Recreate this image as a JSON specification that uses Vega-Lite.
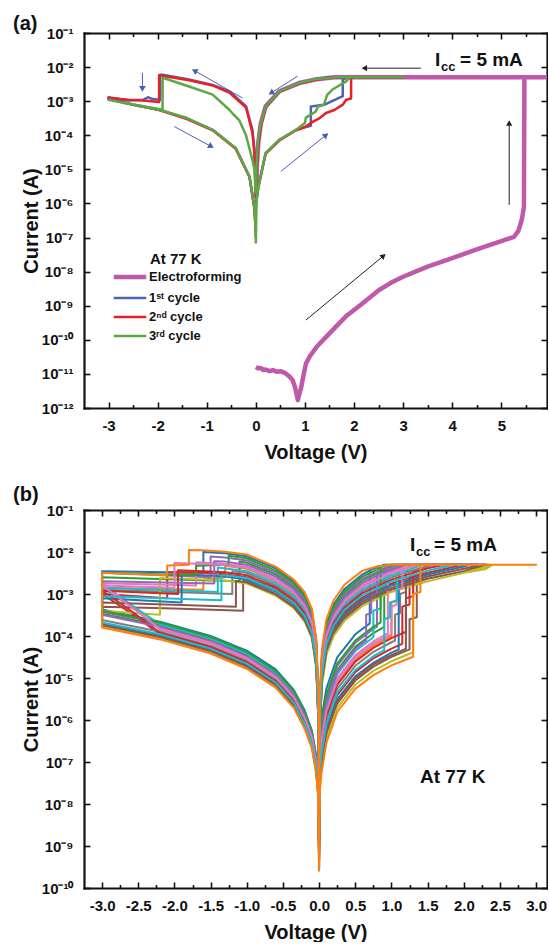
{
"$schema":"https://vega.github.io/schema/vega-lite/v6.json",
"background":"white",
"padding":{"left":13,"top":14,"right":0,"bottom":0},
"spacing":23,
"resolve":{"scale":{"color":"independent","strokeWidth":"independent"}},
"config":{
"font":"Liberation Sans",
"view":{"stroke":null},
"axis":{"grid":false,"domainColor":"#111","domainWidth":2.2,"domainCap":"square","tickColor":"#111","tickWidth":1.6,"tickSize":-6,"labelFont":"Liberation Sans","labelFontSize":15,"labelFontWeight":"bold","labelColor":"#111","labelPadding":16,"titleFont":"Liberation Sans","titleFontSize":20,"titleFontWeight":"bold","titleColor":"#111"},
"title":{"font":"Liberation Sans","fontSize":20,"fontWeight":"bold","color":"#111","anchor":"start","frame":"group"}
},
"datasets":{
"a":[
{"s":"E","v":0.0,"i":1.6e-11},{"s":"E","v":0.05,"i":1.45e-11},{"s":"E","v":0.1,"i":1.5e-11},{"s":"E","v":0.15,"i":1.3e-11},{"s":"E","v":0.2,"i":1.35e-11},{"s":"E","v":0.28,"i":1.2e-11},{"s":"E","v":0.35,"i":1.3e-11},{"s":"E","v":0.42,"i":1.15e-11},{"s":"E","v":0.5,"i":1.2e-11},{"s":"E","v":0.6,"i":1.05e-11},{"s":"E","v":0.68,"i":8.5e-12},{"s":"E","v":0.75,"i":6.5e-12},{"s":"E","v":0.8,"i":4e-12},{"s":"E","v":0.83,"i":2.5e-12},{"s":"E","v":0.855,"i":1.7e-12},{"s":"E","v":0.88,"i":2.4e-12},{"s":"E","v":0.92,"i":3.8e-12},{"s":"E","v":0.97,"i":9e-12},{"s":"E","v":1.02,"i":2.0e-11},{"s":"E","v":1.1,"i":3.3e-11},{"s":"E","v":1.25,"i":6.5e-11},{"s":"E","v":1.5,"i":1.55e-10},{"s":"E","v":1.83,"i":4.8e-10},{"s":"E","v":2.17,"i":1.17e-9},{"s":"E","v":2.51,"i":2.9e-9},{"s":"E","v":2.75,"i":4.7e-9},{"s":"E","v":3.0,"i":7.1e-9},{"s":"E","v":3.25,"i":1.0e-8},{"s":"E","v":3.5,"i":1.4e-8},{"s":"E","v":4.0,"i":2.5e-8},{"s":"E","v":4.5,"i":4.5e-8},{"s":"E","v":5.0,"i":7.9e-8},{"s":"E","v":5.26,"i":1.05e-7},{"s":"E","v":5.35,"i":1.6e-7},{"s":"E","v":5.42,"i":3.5e-7},{"s":"E","v":5.46,"i":8e-7},{"s":"E","v":5.47,"i":5e-3},{"s":"E","v":6.0,"i":5e-3},{"s":"E","v":1.6,"i":5e-3},{"s":"E","v":1.2,"i":4.3e-3},{"s":"E","v":0.88,"i":3.4e-3},{"s":"E","v":0.48,"i":1.95e-3},{"s":"E","v":0.2,"i":7.1e-4},{"s":"E","v":0.1,"i":2.2e-4},{"s":"E","v":0.05,"i":6e-5},{"s":"E","v":0.02,"i":1.2e-5},{"s":"E","v":0.01,"i":1.5e-6},
{"s":"1","v":0,"i":1.0e-6},{"s":"1","v":0.03,"i":2.0e-6},{"s":"1","v":0.07,"i":4.0e-6},{"s":"1","v":0.2,"i":3.0e-5},{"s":"1","v":0.48,"i":7.4e-5},{"s":"1","v":0.82,"i":1.45e-4},{"s":"1","v":1.0,"i":1.7e-4},{"s":"1","v":1.12,"i":1.9e-4},{"s":"1","v":1.12,"i":7.0e-4},{"s":"1","v":1.39,"i":7.8e-4},{"s":"1","v":1.77,"i":1.4e-3},{"s":"1","v":1.77,"i":4.2e-3},{"s":"1","v":1.84,"i":5e-3},{"s":"1","v":3.0,"i":5e-3},{"s":"1","v":1.5,"i":5e-3},{"s":"1","v":1.2,"i":4.3e-3},{"s":"1","v":0.88,"i":3.4e-3},{"s":"1","v":0.48,"i":1.95e-3},{"s":"1","v":0.2,"i":7.1e-4},{"s":"1","v":0.1,"i":2.0e-4},{"s":"1","v":0.04,"i":4e-5},{"s":"1","v":0.02,"i":1.5e-5},{"s":"1","v":0.01,"i":6e-6},{"s":"1","v":0,"i":2e-6},{"s":"1","v":-0.01,"i":8e-6},{"s":"1","v":-0.03,"i":4e-5},{"s":"1","v":-0.07,"i":1.45e-4},{"s":"1","v":-0.2,"i":7.1e-4},{"s":"1","v":-0.54,"i":1.95e-3},{"s":"1","v":-0.88,"i":3.0e-3},{"s":"1","v":-1.36,"i":4.3e-3},{"s":"1","v":-1.9,"i":6.0e-3},{"s":"1","v":-1.95,"i":6.0e-3},{"s":"1","v":-1.95,"i":1.1e-3},{"s":"1","v":-2.1,"i":1.15e-3},{"s":"1","v":-2.2,"i":1.3e-3},{"s":"1","v":-2.3,"i":1.1e-3},{"s":"1","v":-2.6,"i":1.05e-3},{"s":"1","v":-3.0,"i":1.3e-3},{"s":"1","v":-3.0,"i":1.15e-3},{"s":"1","v":-2.5,"i":8.0e-4},{"s":"1","v":-1.97,"i":5.6e-4},{"s":"1","v":-1.4,"i":3.1e-4},{"s":"1","v":-0.88,"i":1.45e-4},{"s":"1","v":-0.41,"i":4.2e-5},{"s":"1","v":-0.13,"i":6.2e-6},{"s":"1","v":-0.03,"i":8e-7},{"s":"1","v":-0.01,"i":3e-7},{"s":"1","v":0,"i":1.5e-7},
{"s":"2","v":0,"i":1.5e-6},{"s":"2","v":0.03,"i":2.5e-6},{"s":"2","v":0.07,"i":4.2e-6},{"s":"2","v":0.2,"i":2.9e-5},{"s":"2","v":0.48,"i":7.0e-5},{"s":"2","v":0.82,"i":1.4e-4},{"s":"2","v":1.0,"i":1.75e-4},{"s":"2","v":1.12,"i":2.3e-4},{"s":"2","v":1.3,"i":3.2e-4},{"s":"2","v":1.43,"i":4.5e-4},{"s":"2","v":1.6,"i":5.5e-4},{"s":"2","v":1.77,"i":7.9e-4},{"s":"2","v":1.84,"i":1.1e-3},{"s":"2","v":1.94,"i":1.2e-3},{"s":"2","v":1.94,"i":5e-3},{"s":"2","v":3.0,"i":5e-3},{"s":"2","v":1.55,"i":5e-3},{"s":"2","v":1.2,"i":4.2e-3},{"s":"2","v":0.88,"i":3.3e-3},{"s":"2","v":0.48,"i":1.9e-3},{"s":"2","v":0.2,"i":6.5e-4},{"s":"2","v":0.1,"i":1.8e-4},{"s":"2","v":0.05,"i":6e-5},{"s":"2","v":0.02,"i":1.2e-5},{"s":"2","v":0.01,"i":4e-6},{"s":"2","v":0,"i":1.5e-6},{"s":"2","v":-0.01,"i":5e-6},{"s":"2","v":-0.03,"i":3e-5},{"s":"2","v":-0.07,"i":1.2e-4},{"s":"2","v":-0.2,"i":6.5e-4},{"s":"2","v":-0.54,"i":1.8e-3},{"s":"2","v":-0.88,"i":2.9e-3},{"s":"2","v":-1.36,"i":4.1e-3},{"s":"2","v":-1.97,"i":5.8e-3},{"s":"2","v":-1.97,"i":9.5e-4},{"s":"2","v":-2.3,"i":1.05e-3},{"s":"2","v":-2.6,"i":1.1e-3},{"s":"2","v":-3.0,"i":1.25e-3},{"s":"2","v":-3.0,"i":1.15e-3},{"s":"2","v":-2.5,"i":7.8e-4},{"s":"2","v":-1.97,"i":5.5e-4},{"s":"2","v":-1.4,"i":3.0e-4},{"s":"2","v":-0.88,"i":1.4e-4},{"s":"2","v":-0.41,"i":4.0e-5},{"s":"2","v":-0.13,"i":6e-6},{"s":"2","v":-0.03,"i":7e-7},{"s":"2","v":-0.01,"i":2.5e-7},{"s":"2","v":0,"i":1e-7},
{"s":"3","v":0,"i":6.7e-8},{"s":"3","v":0.01,"i":6e-7},{"s":"3","v":0.02,"i":1.5e-6},{"s":"3","v":0.07,"i":4.2e-6},{"s":"3","v":0.2,"i":3e-5},{"s":"3","v":0.48,"i":7.4e-5},{"s":"3","v":0.82,"i":1.45e-4},{"s":"3","v":1.0,"i":2.3e-4},{"s":"3","v":1.02,"i":3.3e-4},{"s":"3","v":1.22,"i":5.0e-4},{"s":"3","v":1.26,"i":6.8e-4},{"s":"3","v":1.39,"i":8.0e-4},{"s":"3","v":1.45,"i":1.5e-3},{"s":"3","v":1.56,"i":2.2e-3},{"s":"3","v":1.84,"i":3.8e-3},{"s":"3","v":1.9,"i":5e-3},{"s":"3","v":3.0,"i":5e-3},{"s":"3","v":1.6,"i":5e-3},{"s":"3","v":1.2,"i":4.4e-3},{"s":"3","v":0.88,"i":3.4e-3},{"s":"3","v":0.48,"i":1.95e-3},{"s":"3","v":0.2,"i":7.0e-4},{"s":"3","v":0.1,"i":2.2e-4},{"s":"3","v":0.05,"i":8e-5},{"s":"3","v":0.02,"i":2e-5},{"s":"3","v":0.01,"i":8e-6},{"s":"3","v":0,"i":2e-6},{"s":"3","v":-0.01,"i":3e-6},{"s":"3","v":-0.03,"i":1e-5},{"s":"3","v":-0.07,"i":1.9e-5},{"s":"3","v":-0.2,"i":1.0e-4},{"s":"3","v":-0.34,"i":2.8e-4},{"s":"3","v":-0.45,"i":4.0e-4},{"s":"3","v":-0.54,"i":5.6e-4},{"s":"3","v":-0.88,"i":1.55e-3},{"s":"3","v":-1.36,"i":2.7e-3},{"s":"3","v":-1.88,"i":4.8e-3},{"s":"3","v":-1.9,"i":4.8e-3},{"s":"3","v":-1.9,"i":5.6e-4},{"s":"3","v":-2.5,"i":8.0e-4},{"s":"3","v":-3.0,"i":1.1e-3},{"s":"3","v":-2.5,"i":7.9e-4},{"s":"3","v":-1.97,"i":5.6e-4},{"s":"3","v":-1.4,"i":3.2e-4},{"s":"3","v":-0.88,"i":1.45e-4},{"s":"3","v":-0.41,"i":4.2e-5},{"s":"3","v":-0.13,"i":6.2e-6},{"s":"3","v":-0.03,"i":8e-7},{"s":"3","v":-0.01,"i":2.5e-7},{"s":"3","v":0,"i":6.7e-8}
],
"arr":[
{"x1":-2.31,"y1":6.8e-3,"x2":-2.31,"y2":2.3e-3,"k":"b","ang":180},
{"x1":-0.27,"y1":1.23e-3,"x2":-1.25,"y2":7.9e-3,"k":"b","ang":300},
{"x1":0.85,"y1":5.4e-3,"x2":0.31,"y2":1.74e-3,"k":"b","ang":238},
{"x1":-1.66,"y1":1.8e-4,"x2":-0.91,"y2":4.7e-5,"k":"b","ang":119},
{"x1":0.51,"y1":8.7e-6,"x2":1.43,"y2":1.02e-4,"k":"b","ang":51},
{"x1":3.36,"y1":9.3e-3,"x2":2.21,"y2":9.3e-3,"k":"k","ang":270},
{"x1":5.16,"y1":9.1e-7,"x2":5.16,"y2":2.3e-4,"k":"k","ang":0},
{"x1":1.02,"y1":3.8e-10,"x2":2.6,"y2":2.9e-8,"k":"k","ang":50}
],
"b":[
{"c":1,"v":0,"i":3.2e-9},{"c":1,"v":0.01,"i":4.0e-7},{"c":1,"v":0.03,"i":1.0e-6},{"c":1,"v":0.1,"i":5.6e-6},{"c":1,"v":0.25,"i":3.1e-5},{"c":1,"v":0.5,"i":1.1e-4},{"c":1,"v":0.7,"i":2.0e-4},{"c":1,"v":0.7,"i":3.7e-3},{"c":1,"v":0.9,"i":5e-3},{"c":1,"v":2.0,"i":5e-3},{"c":1,"v":1.0,"i":5e-3},{"c":1,"v":0.8,"i":4.5e-3},{"c":1,"v":0.6,"i":2.95e-3},{"c":1,"v":0.35,"i":1.32e-3},{"c":1,"v":0.2,"i":5.6e-4},{"c":1,"v":0.1,"i":2.0e-4},{"c":1,"v":0.04,"i":4.0e-5},{"c":1,"v":0.01,"i":3.2e-6},{"c":1,"v":0,"i":1e-8},{"c":1,"v":-0.01,"i":4.0e-6},{"c":1,"v":-0.04,"i":7.9e-5},{"c":1,"v":-0.1,"i":4.0e-4},{"c":1,"v":-0.2,"i":1.0e-3},{"c":1,"v":-0.35,"i":2.0e-3},{"c":1,"v":-0.6,"i":4.1e-3},{"c":1,"v":-1.0,"i":7.9e-3},{"c":1,"v":-1.3,"i":9.3e-3},{"c":1,"v":-1.6,"i":1.0e-2},{"c":1,"v":-1.6,"i":3.2e-3},{"c":1,"v":-3.0,"i":3.5e-3},{"c":1,"v":-3.0,"i":4.3e-4},{"c":1,"v":-2.2,"i":2.2e-4},{"c":1,"v":-1.5,"i":1.0e-4},{"c":1,"v":-1.0,"i":4.5e-5},{"c":1,"v":-0.6,"i":1.6e-5},{"c":1,"v":-0.35,"i":5.2e-6},{"c":1,"v":-0.2,"i":1.7e-6},{"c":1,"v":-0.1,"i":5.6e-7},{"c":1,"v":-0.04,"i":1.4e-7},{"c":1,"v":-0.015,"i":4.5e-8},{"c":1,"v":0,"i":1.6e-9},
{"c":2,"v":0,"i":1e-9},{"c":2,"v":0.01,"i":1e-7},{"c":2,"v":0.03,"i":2.5e-7},{"c":2,"v":0.1,"i":1.4e-6},{"c":2,"v":0.25,"i":7.8e-6},{"c":2,"v":0.5,"i":2.75e-5},{"c":2,"v":0.75,"i":5.9e-5},{"c":2,"v":1.0,"i":1.0e-4},{"c":2,"v":1.0,"i":6.3e-4},{"c":2,"v":1.1,"i":7.1e-4},{"c":2,"v":1.1,"i":3.6e-3},{"c":2,"v":1.35,"i":5e-3},{"c":2,"v":2.2,"i":5e-3},{"c":2,"v":1.35,"i":5e-3},{"c":2,"v":1.0,"i":3.2e-3},{"c":2,"v":0.6,"i":1.5e-3},{"c":2,"v":0.35,"i":6.6e-4},{"c":2,"v":0.2,"i":2.8e-4},{"c":2,"v":0.1,"i":1e-4},{"c":2,"v":0.04,"i":2e-5},{"c":2,"v":0.01,"i":1.6e-6},{"c":2,"v":0,"i":5e-9},{"c":2,"v":-0.01,"i":2e-6},{"c":2,"v":-0.04,"i":4e-5},{"c":2,"v":-0.1,"i":2e-4},{"c":2,"v":-0.2,"i":5e-4},{"c":2,"v":-0.35,"i":1.0e-3},{"c":2,"v":-0.6,"i":2.0e-3},{"c":2,"v":-1.0,"i":4.0e-3},{"c":2,"v":-1.3,"i":4.7e-3},{"c":2,"v":-1.3,"i":2.5e-3},{"c":2,"v":-1.6,"i":2.2e-3},{"c":2,"v":-1.6,"i":1.26e-3},{"c":2,"v":-3.0,"i":1.4e-3},{"c":2,"v":-2.6,"i":5e-4},{"c":2,"v":-2.2,"i":1.6e-4},{"c":2,"v":-1.5,"i":7.2e-5},{"c":2,"v":-1.0,"i":3.2e-5},{"c":2,"v":-0.6,"i":1.1e-5},{"c":2,"v":-0.35,"i":3.7e-6},{"c":2,"v":-0.2,"i":1.2e-6},{"c":2,"v":-0.1,"i":4e-7},{"c":2,"v":-0.04,"i":1e-7},{"c":2,"v":-0.015,"i":3.2e-8},{"c":2,"v":0,"i":6.3e-10},
{"c":3,"v":0,"i":6.3e-9},{"c":3,"v":0.01,"i":2e-7},{"c":3,"v":0.03,"i":5e-7},{"c":3,"v":0.1,"i":2.8e-6},{"c":3,"v":0.25,"i":1.55e-5},{"c":3,"v":0.5,"i":5.5e-5},{"c":3,"v":0.75,"i":1.17e-4},{"c":3,"v":0.9,"i":1.64e-4},{"c":3,"v":0.9,"i":3.8e-3},{"c":3,"v":1.05,"i":5e-3},{"c":3,"v":2.1,"i":5e-3},{"c":3,"v":1.08,"i":5e-3},{"c":3,"v":1.0,"i":4.5e-3},{"c":3,"v":0.6,"i":2.1e-3},{"c":3,"v":0.35,"i":9.3e-4},{"c":3,"v":0.2,"i":4e-4},{"c":3,"v":0.1,"i":1.4e-4},{"c":3,"v":0.04,"i":2.8e-5},{"c":3,"v":0.01,"i":2.2e-6},{"c":3,"v":0,"i":2.5e-9},{"c":3,"v":-0.01,"i":2.8e-6},{"c":3,"v":-0.04,"i":5.6e-5},{"c":3,"v":-0.1,"i":2.8e-4},{"c":3,"v":-0.2,"i":7.1e-4},{"c":3,"v":-0.35,"i":1.45e-3},{"c":3,"v":-0.6,"i":2.9e-3},{"c":3,"v":-1.0,"i":5.6e-3},{"c":3,"v":-1.1,"i":5.9e-3},{"c":3,"v":-1.1,"i":2.0e-3},{"c":3,"v":-2.0,"i":2.2e-3},{"c":3,"v":-3.0,"i":2.5e-3},{"c":3,"v":-3.0,"i":3.4e-4},{"c":3,"v":-2.2,"i":1.8e-4},{"c":3,"v":-1.5,"i":8.1e-5},{"c":3,"v":-1.0,"i":3.5e-5},{"c":3,"v":-0.6,"i":1.26e-5},{"c":3,"v":-0.35,"i":4.2e-6},{"c":3,"v":-0.2,"i":1.3e-6},{"c":3,"v":-0.1,"i":4.5e-7},{"c":3,"v":-0.04,"i":1.1e-7},{"c":3,"v":-0.015,"i":3.5e-8},{"c":3,"v":0,"i":4e-9},
{"c":4,"v":0,"i":5e-10},{"c":4,"v":0.01,"i":5e-8},{"c":4,"v":0.03,"i":1.26e-7},{"c":4,"v":0.1,"i":7.1e-7},{"c":4,"v":0.25,"i":3.9e-6},{"c":4,"v":0.5,"i":1.38e-5},{"c":4,"v":0.75,"i":2.95e-5},{"c":4,"v":1.0,"i":5e-5},{"c":4,"v":1.15,"i":6.5e-5},{"c":4,"v":1.15,"i":5e-4},{"c":4,"v":1.25,"i":5.6e-4},{"c":4,"v":1.25,"i":2.5e-3},{"c":4,"v":1.5,"i":3.2e-3},{"c":4,"v":2.0,"i":5e-3},{"c":4,"v":2.3,"i":5e-3},{"c":4,"v":2.0,"i":5e-3},{"c":4,"v":1.5,"i":3.2e-3},{"c":4,"v":1.0,"i":1.78e-3},{"c":4,"v":0.6,"i":8.3e-4},{"c":4,"v":0.35,"i":3.7e-4},{"c":4,"v":0.2,"i":1.6e-4},{"c":4,"v":0.1,"i":5.6e-5},{"c":4,"v":0.04,"i":1.1e-5},{"c":4,"v":0.01,"i":8.9e-7},{"c":4,"v":0,"i":2e-9},{"c":4,"v":-0.01,"i":1.26e-6},{"c":4,"v":-0.04,"i":2.5e-5},{"c":4,"v":-0.1,"i":1.26e-4},{"c":4,"v":-0.2,"i":3.2e-4},{"c":4,"v":-0.35,"i":6.5e-4},{"c":4,"v":-0.6,"i":1.3e-3},{"c":4,"v":-1.0,"i":2.5e-3},{"c":4,"v":-1.3,"i":2.95e-3},{"c":4,"v":-1.6,"i":3.2e-3},{"c":4,"v":-2.1,"i":3.3e-3},{"c":4,"v":-2.1,"i":7.9e-4},{"c":4,"v":-3.0,"i":1e-3},{"c":4,"v":-2.6,"i":3.5e-4},{"c":4,"v":-2.2,"i":1.1e-4},{"c":4,"v":-1.5,"i":5.1e-5},{"c":4,"v":-1.0,"i":2.2e-5},{"c":4,"v":-0.6,"i":7.9e-6},{"c":4,"v":-0.35,"i":2.6e-6},{"c":4,"v":-0.2,"i":8.3e-7},{"c":4,"v":-0.1,"i":2.8e-7},{"c":4,"v":-0.04,"i":7.1e-8},{"c":4,"v":-0.015,"i":2.2e-8},{"c":4,"v":0,"i":1e-9},
{"c":5,"v":0,"i":1e-8},{"c":5,"v":0.01,"i":2.5e-7},{"c":5,"v":0.03,"i":6.3e-7},{"c":5,"v":0.1,"i":3.5e-6},{"c":5,"v":0.25,"i":1.95e-5},{"c":5,"v":0.5,"i":6.9e-5},{"c":5,"v":0.75,"i":1.48e-4},{"c":5,"v":0.8,"i":1.66e-4},{"c":5,"v":0.8,"i":1e-3},{"c":5,"v":0.9,"i":1.12e-3},{"c":5,"v":0.9,"i":3.5e-3},{"c":5,"v":1.0,"i":5e-3},{"c":5,"v":2.0,"i":5e-3},{"c":5,"v":1.0,"i":5e-3},{"c":5,"v":0.6,"i":2.3e-3},{"c":5,"v":0.35,"i":1.05e-3},{"c":5,"v":0.2,"i":4.5e-4},{"c":5,"v":0.1,"i":1.6e-4},{"c":5,"v":0.04,"i":3.2e-5},{"c":5,"v":0.01,"i":2.5e-6},{"c":5,"v":0,"i":1.6e-9},{"c":5,"v":-0.01,"i":3.2e-6},{"c":5,"v":-0.04,"i":6.3e-5},{"c":5,"v":-0.1,"i":3.2e-4},{"c":5,"v":-0.2,"i":7.9e-4},{"c":5,"v":-0.35,"i":1.6e-3},{"c":5,"v":-0.6,"i":3.2e-3},{"c":5,"v":-1.0,"i":6.3e-3},{"c":5,"v":-1.3,"i":7.4e-3},{"c":5,"v":-1.5,"i":7.8e-3},{"c":5,"v":-1.5,"i":2.5e-3},{"c":5,"v":-3.0,"i":3.2e-3},{"c":5,"v":-3.0,"i":3.8e-4},{"c":5,"v":-2.2,"i":2e-4},{"c":5,"v":-1.5,"i":9.1e-5},{"c":5,"v":-1.0,"i":4e-5},{"c":5,"v":-0.6,"i":1.4e-5},{"c":5,"v":-0.35,"i":4.7e-6},{"c":5,"v":-0.2,"i":1.48e-6},{"c":5,"v":-0.1,"i":5e-7},{"c":5,"v":-0.04,"i":1.26e-7},{"c":5,"v":-0.015,"i":4e-8},{"c":5,"v":0,"i":2.5e-9},
{"c":6,"v":0,"i":3.2e-10},{"c":6,"v":0.01,"i":3.2e-8},{"c":6,"v":0.03,"i":7.9e-8},{"c":6,"v":0.1,"i":4.5e-7},{"c":6,"v":0.25,"i":2.45e-6},{"c":6,"v":0.5,"i":8.7e-6},{"c":6,"v":0.75,"i":1.86e-5},{"c":6,"v":1.0,"i":3.2e-5},{"c":6,"v":1.25,"i":4.8e-5},{"c":6,"v":1.25,"i":2.5e-4},{"c":6,"v":1.35,"i":2.8e-4},{"c":6,"v":1.35,"i":2e-3},{"c":6,"v":1.5,"i":2.3e-3},{"c":6,"v":2.0,"i":3.5e-3},{"c":6,"v":2.2,"i":4.2e-3},{"c":6,"v":2.3,"i":5e-3},{"c":6,"v":2.2,"i":4.5e-3},{"c":6,"v":2.0,"i":3.5e-3},{"c":6,"v":1.5,"i":2.3e-3},{"c":6,"v":1.0,"i":1.26e-3},{"c":6,"v":0.6,"i":5.9e-4},{"c":6,"v":0.35,"i":2.6e-4},{"c":6,"v":0.2,"i":1.1e-4},{"c":6,"v":0.1,"i":4e-5},{"c":6,"v":0.04,"i":7.9e-6},{"c":6,"v":0.01,"i":6.3e-7},{"c":6,"v":0,"i":7.9e-10},{"c":6,"v":-0.01,"i":1e-6},{"c":6,"v":-0.04,"i":2e-5},{"c":6,"v":-0.1,"i":1e-4},{"c":6,"v":-0.2,"i":2.5e-4},{"c":6,"v":-0.35,"i":5.1e-4},{"c":6,"v":-0.6,"i":1.0e-3},{"c":6,"v":-1.0,"i":2e-3},{"c":6,"v":-1.05,"i":2.04e-3},{"c":6,"v":-1.05,"i":4e-4},{"c":6,"v":-2.0,"i":4.5e-4},{"c":6,"v":-3.0,"i":5e-4},{"c":6,"v":-3.0,"i":1.9e-4},{"c":6,"v":-2.2,"i":1e-4},{"c":6,"v":-1.5,"i":4.6e-5},{"c":6,"v":-1.0,"i":2e-5},{"c":6,"v":-0.6,"i":7.1e-6},{"c":6,"v":-0.35,"i":2.3e-6},{"c":6,"v":-0.2,"i":7.4e-7},{"c":6,"v":-0.1,"i":2.5e-7},{"c":6,"v":-0.04,"i":6.3e-8},{"c":6,"v":-0.015,"i":2e-8},{"c":6,"v":0,"i":4e-10},
{"c":7,"v":0,"i":4e-9},{"c":7,"v":0.01,"i":1.26e-7},{"c":7,"v":0.03,"i":3.2e-7},{"c":7,"v":0.1,"i":1.78e-6},{"c":7,"v":0.25,"i":9.8e-6},{"c":7,"v":0.5,"i":3.5e-5},{"c":7,"v":0.75,"i":7.4e-5},{"c":7,"v":0.95,"i":1.15e-4},{"c":7,"v":0.95,"i":3.3e-3},{"c":7,"v":1.2,"i":4.7e-3},{"c":7,"v":1.3,"i":5e-3},{"c":7,"v":2.1,"i":5e-3},{"c":7,"v":1.25,"i":5e-3},{"c":7,"v":1.0,"i":3.5e-3},{"c":7,"v":0.6,"i":1.66e-3},{"c":7,"v":0.35,"i":7.4e-4},{"c":7,"v":0.2,"i":3.2e-4},{"c":7,"v":0.1,"i":1.1e-4},{"c":7,"v":0.04,"i":2.2e-5},{"c":7,"v":0.01,"i":1.78e-6},{"c":7,"v":0,"i":6.3e-9},{"c":7,"v":-0.01,"i":2.2e-6},{"c":7,"v":-0.04,"i":4.5e-5},{"c":7,"v":-0.1,"i":2.2e-4},{"c":7,"v":-0.2,"i":5.6e-4},{"c":7,"v":-0.35,"i":1.15e-3},{"c":7,"v":-0.6,"i":2.3e-3},{"c":7,"v":-1.0,"i":4.5e-3},{"c":7,"v":-1.3,"i":5.2e-3},{"c":7,"v":-1.7,"i":5.7e-3},{"c":7,"v":-1.7,"i":1.6e-3},{"c":7,"v":-3.0,"i":1.8e-3},{"c":7,"v":-2.6,"i":5.5e-4},{"c":7,"v":-2.2,"i":1.4e-4},{"c":7,"v":-1.5,"i":6.5e-5},{"c":7,"v":-1.0,"i":2.8e-5},{"c":7,"v":-0.6,"i":1e-5},{"c":7,"v":-0.35,"i":3.3e-6},{"c":7,"v":-0.2,"i":1.05e-6},{"c":7,"v":-0.1,"i":3.5e-7},{"c":7,"v":-0.04,"i":8.9e-8},{"c":7,"v":-0.015,"i":2.8e-8},{"c":7,"v":0,"i":1.26e-9},
{"c":8,"v":0,"i":1.26e-9},{"c":8,"v":0.01,"i":7.1e-8},{"c":8,"v":0.03,"i":1.78e-7},{"c":8,"v":0.1,"i":1e-6},{"c":8,"v":0.25,"i":5.5e-6},{"c":8,"v":0.5,"i":1.95e-5},{"c":8,"v":0.75,"i":4.2e-5},{"c":8,"v":1.0,"i":7.1e-5},{"c":8,"v":1.05,"i":7.8e-5},{"c":8,"v":1.05,"i":3.2e-4},{"c":8,"v":1.12,"i":3.5e-4},{"c":8,"v":1.12,"i":1e-3},{"c":8,"v":1.2,"i":1.12e-3},{"c":8,"v":1.2,"i":3.3e-3},{"c":8,"v":1.5,"i":4.6e-3},{"c":8,"v":1.6,"i":5e-3},{"c":8,"v":2.2,"i":5e-3},{"c":8,"v":1.6,"i":5e-3},{"c":8,"v":1.5,"i":4.6e-3},{"c":8,"v":1.0,"i":2.5e-3},{"c":8,"v":0.6,"i":1.17e-3},{"c":8,"v":0.35,"i":5.2e-4},{"c":8,"v":0.2,"i":2.2e-4},{"c":8,"v":0.1,"i":7.9e-5},{"c":8,"v":0.04,"i":1.6e-5},{"c":8,"v":0.01,"i":1.26e-6},{"c":8,"v":0,"i":3.2e-9},{"c":8,"v":-0.01,"i":1.6e-6},{"c":8,"v":-0.04,"i":3.2e-5},{"c":8,"v":-0.1,"i":1.6e-4},{"c":8,"v":-0.2,"i":4e-4},{"c":8,"v":-0.35,"i":8.1e-4},{"c":8,"v":-0.6,"i":1.6e-3},{"c":8,"v":-1.0,"i":3.2e-3},{"c":8,"v":-1.2,"i":3.5e-3},{"c":8,"v":-1.2,"i":1e-3},{"c":8,"v":-3.0,"i":1.26e-3},{"c":8,"v":-3.0,"i":2.4e-4},{"c":8,"v":-2.2,"i":1.26e-4},{"c":8,"v":-1.5,"i":5.8e-5},{"c":8,"v":-1.0,"i":2.5e-5},{"c":8,"v":-0.6,"i":8.9e-6},{"c":8,"v":-0.35,"i":2.95e-6},{"c":8,"v":-0.2,"i":9.3e-7},{"c":8,"v":-0.1,"i":3.2e-7},{"c":8,"v":-0.04,"i":7.9e-8},{"c":8,"v":-0.015,"i":2.5e-8},{"c":8,"v":0,"i":2.5e-10},
{"c":9,"v":0,"i":6.3e-10},{"c":9,"v":0.01,"i":2.5e-8},{"c":9,"v":0.03,"i":6.3e-8},{"c":9,"v":0.1,"i":3.5e-7},{"c":9,"v":0.25,"i":1.95e-6},{"c":9,"v":0.5,"i":6.9e-6},{"c":9,"v":0.75,"i":1.48e-5},{"c":9,"v":1.0,"i":2.5e-5},{"c":9,"v":1.3,"i":4.1e-5},{"c":9,"v":1.3,"i":1.66e-3},{"c":9,"v":1.5,"i":2.0e-3},{"c":9,"v":2.0,"i":3.2e-3},{"c":9,"v":2.3,"i":3.9e-3},{"c":9,"v":2.4,"i":5e-3},{"c":9,"v":2.3,"i":4.4e-3},{"c":9,"v":2.0,"i":3.2e-3},{"c":9,"v":1.5,"i":2.0e-3},{"c":9,"v":1.0,"i":1.12e-3},{"c":9,"v":0.6,"i":5.2e-4},{"c":9,"v":0.35,"i":2.3e-4},{"c":9,"v":0.2,"i":1e-4},{"c":9,"v":0.1,"i":3.5e-5},{"c":9,"v":0.04,"i":7.1e-6},{"c":9,"v":0.01,"i":5.6e-7},{"c":9,"v":0,"i":1.6e-9},{"c":9,"v":-0.01,"i":8.9e-7},{"c":9,"v":-0.04,"i":1.78e-5},{"c":9,"v":-0.1,"i":8.9e-5},{"c":9,"v":-0.2,"i":2.2e-4},{"c":9,"v":-0.35,"i":4.6e-4},{"c":9,"v":-0.6,"i":9.1e-4},{"c":9,"v":-1.0,"i":1.78e-3},{"c":9,"v":-1.3,"i":2.1e-3},{"c":9,"v":-1.6,"i":2.2e-3},{"c":9,"v":-2.2,"i":2.4e-3},{"c":9,"v":-2.2,"i":3.2e-4},{"c":9,"v":-3.0,"i":4e-4},{"c":9,"v":-3.0,"i":1.7e-4},{"c":9,"v":-2.2,"i":8.9e-5},{"c":9,"v":-1.5,"i":4.1e-5},{"c":9,"v":-1.0,"i":1.78e-5},{"c":9,"v":-0.6,"i":6.3e-6},{"c":9,"v":-0.35,"i":2.1e-6},{"c":9,"v":-0.2,"i":6.6e-7},{"c":9,"v":-0.1,"i":2.2e-7},{"c":9,"v":-0.04,"i":5.6e-8},{"c":9,"v":-0.015,"i":1.78e-8},{"c":9,"v":0,"i":5e-10},
{"c":10,"v":0,"i":5e-9},{"c":10,"v":0.01,"i":1.6e-7},{"c":10,"v":0.03,"i":4e-7},{"c":10,"v":0.1,"i":2.2e-6},{"c":10,"v":0.25,"i":1.23e-5},{"c":10,"v":0.5,"i":4.4e-5},{"c":10,"v":0.75,"i":9.3e-5},{"c":10,"v":0.75,"i":4e-4},{"c":10,"v":0.85,"i":4.5e-4},{"c":10,"v":0.85,"i":1.6e-3},{"c":10,"v":0.95,"i":1.78e-3},{"c":10,"v":0.95,"i":2.6e-3},{"c":10,"v":1.45,"i":5e-3},{"c":10,"v":2.1,"i":5e-3},{"c":10,"v":1.45,"i":5e-3},{"c":10,"v":1.0,"i":2.8e-3},{"c":10,"v":0.6,"i":1.3e-3},{"c":10,"v":0.35,"i":5.9e-4},{"c":10,"v":0.2,"i":2.5e-4},{"c":10,"v":0.1,"i":8.9e-5},{"c":10,"v":0.04,"i":1.78e-5},{"c":10,"v":0.01,"i":1.4e-6},{"c":10,"v":0,"i":4e-9},{"c":10,"v":-0.01,"i":1.78e-6},{"c":10,"v":-0.04,"i":3.5e-5},{"c":10,"v":-0.1,"i":1.78e-4},{"c":10,"v":-0.2,"i":4.5e-4},{"c":10,"v":-0.35,"i":9.1e-4},{"c":10,"v":-0.6,"i":1.8e-3},{"c":10,"v":-1.0,"i":3.5e-3},{"c":10,"v":-1.4,"i":4.3e-3},{"c":10,"v":-1.4,"i":1.12e-3},{"c":10,"v":-3.0,"i":1.4e-3},{"c":10,"v":-2.6,"i":5.5e-4},{"c":10,"v":-2.2,"i":1.9e-4},{"c":10,"v":-1.5,"i":8.7e-5},{"c":10,"v":-1.0,"i":3.8e-5},{"c":10,"v":-0.6,"i":1.35e-5},{"c":10,"v":-0.35,"i":4.5e-6},{"c":10,"v":-0.2,"i":1.4e-6},{"c":10,"v":-0.1,"i":4.8e-7},{"c":10,"v":-0.04,"i":1.2e-7},{"c":10,"v":-0.015,"i":3.8e-8},{"c":10,"v":0,"i":2e-9},
{"c":11,"v":0,"i":7.9e-10},{"c":11,"v":0.01,"i":4e-8},{"c":11,"v":0.03,"i":1e-7},{"c":11,"v":0.1,"i":5.6e-7},{"c":11,"v":0.25,"i":3.1e-6},{"c":11,"v":0.5,"i":1.1e-5},{"c":11,"v":0.75,"i":2.3e-5},{"c":11,"v":1.0,"i":4e-5},{"c":11,"v":1.1,"i":4.8e-5},{"c":11,"v":1.1,"i":1.8e-3},{"c":11,"v":1.5,"i":2.9e-3},{"c":11,"v":2.0,"i":4.5e-3},{"c":11,"v":2.1,"i":5e-3},{"c":11,"v":2.3,"i":5e-3},{"c":11,"v":2.1,"i":5e-3},{"c":11,"v":2.0,"i":4.5e-3},{"c":11,"v":1.5,"i":2.9e-3},{"c":11,"v":1.0,"i":1.6e-3},{"c":11,"v":0.6,"i":7.4e-4},{"c":11,"v":0.35,"i":3.3e-4},{"c":11,"v":0.2,"i":1.4e-4},{"c":11,"v":0.1,"i":5e-5},{"c":11,"v":0.04,"i":1e-5},{"c":11,"v":0.01,"i":7.9e-7},{"c":11,"v":0,"i":1.26e-9},{"c":11,"v":-0.01,"i":1.1e-6},{"c":11,"v":-0.04,"i":2.2e-5},{"c":11,"v":-0.1,"i":1.1e-4},{"c":11,"v":-0.2,"i":2.8e-4},{"c":11,"v":-0.35,"i":5.8e-4},{"c":11,"v":-0.6,"i":1.15e-3},{"c":11,"v":-1.0,"i":2.2e-3},{"c":11,"v":-1.3,"i":2.6e-3},{"c":11,"v":-1.6,"i":2.8e-3},{"c":11,"v":-1.9,"i":2.9e-3},{"c":11,"v":-1.9,"i":6.3e-4},{"c":11,"v":-3.0,"i":7.9e-4},{"c":11,"v":-3.0,"i":2e-4},{"c":11,"v":-2.2,"i":1.05e-4},{"c":11,"v":-1.5,"i":4.8e-5},{"c":11,"v":-1.0,"i":2.1e-5},{"c":11,"v":-0.6,"i":7.4e-6},{"c":11,"v":-0.35,"i":2.45e-6},{"c":11,"v":-0.2,"i":7.8e-7},{"c":11,"v":-0.1,"i":2.6e-7},{"c":11,"v":-0.04,"i":6.6e-8},{"c":11,"v":-0.015,"i":2.1e-8},{"c":11,"v":0,"i":1e-9},
{"c":13,"v":0,"i":4e-9},{"c":13,"v":0.01,"i":2.8e-7},{"c":13,"v":0.03,"i":7.1e-7},{"c":13,"v":0.1,"i":4e-6},{"c":13,"v":0.25,"i":2.2e-5},{"c":13,"v":0.5,"i":7.8e-5},{"c":13,"v":0.75,"i":1.66e-4},{"c":13,"v":0.85,"i":2.1e-4},{"c":13,"v":0.85,"i":4.4e-3},{"c":13,"v":0.95,"i":5e-3},{"c":13,"v":2.0,"i":5e-3},{"c":13,"v":0.93,"i":5e-3},{"c":13,"v":0.6,"i":2.6e-3},{"c":13,"v":0.35,"i":1.17e-3},{"c":13,"v":0.2,"i":5e-4},{"c":13,"v":0.1,"i":1.78e-4},{"c":13,"v":0.04,"i":3.5e-5},{"c":13,"v":0.01,"i":2.8e-6},{"c":13,"v":0,"i":7.9e-9},{"c":13,"v":-0.01,"i":3.5e-6},{"c":13,"v":-0.04,"i":7.1e-5},{"c":13,"v":-0.1,"i":3.5e-4},{"c":13,"v":-0.2,"i":8.9e-4},{"c":13,"v":-0.35,"i":1.8e-3},{"c":13,"v":-0.6,"i":3.6e-3},{"c":13,"v":-1.0,"i":7.1e-3},{"c":13,"v":-1.25,"i":8.1e-3},{"c":13,"v":-1.25,"i":5e-3},{"c":13,"v":-1.7,"i":4.7e-3},{"c":13,"v":-1.7,"i":2.8e-3},{"c":13,"v":-3.0,"i":3.2e-3},{"c":13,"v":-3.0,"i":4e-4},{"c":13,"v":-2.2,"i":2.1e-4},{"c":13,"v":-1.5,"i":9.5e-5},{"c":13,"v":-1.0,"i":4.2e-5},{"c":13,"v":-0.6,"i":1.48e-5},{"c":13,"v":-0.35,"i":4.9e-6},{"c":13,"v":-0.2,"i":1.55e-6},{"c":13,"v":-0.1,"i":5.2e-7},{"c":13,"v":-0.04,"i":1.32e-7},{"c":13,"v":-0.015,"i":4.2e-8},{"c":13,"v":0,"i":3.2e-9},
{"c":14,"v":0,"i":1.3e-9},{"c":14,"v":0.01,"i":8.9e-8},{"c":14,"v":0.03,"i":2.2e-7},{"c":14,"v":0.1,"i":1.26e-6},{"c":14,"v":0.25,"i":6.9e-6},{"c":14,"v":0.5,"i":2.45e-5},{"c":14,"v":0.75,"i":5.2e-5},{"c":14,"v":1.0,"i":8.9e-5},{"c":14,"v":1.2,"i":1.26e-4},{"c":14,"v":1.2,"i":7.9e-4},{"c":14,"v":1.3,"i":8.9e-4},{"c":14,"v":1.3,"i":3.3e-3},{"c":14,"v":1.5,"i":4.1e-3},{"c":14,"v":1.75,"i":5e-3},{"c":14,"v":2.2,"i":5e-3},{"c":14,"v":1.75,"i":5e-3},{"c":14,"v":1.5,"i":4.1e-3},{"c":14,"v":1.0,"i":2.2e-3},{"c":14,"v":0.6,"i":1.05e-3},{"c":14,"v":0.35,"i":4.7e-4},{"c":14,"v":0.2,"i":2e-4},{"c":14,"v":0.1,"i":7.1e-5},{"c":14,"v":0.04,"i":1.4e-5},{"c":14,"v":0.01,"i":1.1e-6},{"c":14,"v":0,"i":2.5e-9},{"c":14,"v":-0.01,"i":1.4e-6},{"c":14,"v":-0.04,"i":2.8e-5},{"c":14,"v":-0.1,"i":1.4e-4},{"c":14,"v":-0.2,"i":3.5e-4},{"c":14,"v":-0.35,"i":7.2e-4},{"c":14,"v":-0.6,"i":1.45e-3},{"c":14,"v":-1.0,"i":2.8e-3},{"c":14,"v":-1.3,"i":3.3e-3},{"c":14,"v":-1.6,"i":3.5e-3},{"c":14,"v":-1.95,"i":3.7e-3},{"c":14,"v":-1.95,"i":1e-3},{"c":14,"v":-3.0,"i":1.2e-3},{"c":14,"v":-2.6,"i":4e-4},{"c":14,"v":-2.2,"i":1.2e-4},{"c":14,"v":-1.5,"i":5.5e-5},{"c":14,"v":-1.0,"i":2.4e-5},{"c":14,"v":-0.6,"i":8.5e-6},{"c":14,"v":-0.35,"i":2.8e-6},{"c":14,"v":-0.2,"i":8.9e-7},{"c":14,"v":-0.1,"i":3e-7},{"c":14,"v":-0.04,"i":7.6e-8},{"c":14,"v":-0.015,"i":2.4e-8},{"c":14,"v":0,"i":7.9e-10},
{"c":15,"v":0,"i":8e-9},{"c":15,"v":0.01,"i":1.78e-7},{"c":15,"v":0.03,"i":4.5e-7},{"c":15,"v":0.1,"i":2.5e-6},{"c":15,"v":0.25,"i":1.38e-5},{"c":15,"v":0.5,"i":4.9e-5},{"c":15,"v":0.65,"i":7.9e-5},{"c":15,"v":0.65,"i":3.2e-4},{"c":15,"v":0.72,"i":3.5e-4},{"c":15,"v":0.72,"i":8.9e-4},{"c":15,"v":0.8,"i":1e-3},{"c":15,"v":0.8,"i":2.8e-3},{"c":15,"v":1.2,"i":5e-3},{"c":15,"v":2.1,"i":5e-3},{"c":15,"v":1.15,"i":5e-3},{"c":15,"v":1.0,"i":4e-3},{"c":15,"v":0.6,"i":1.86e-3},{"c":15,"v":0.35,"i":8.3e-4},{"c":15,"v":0.2,"i":3.5e-4},{"c":15,"v":0.1,"i":1.26e-4},{"c":15,"v":0.04,"i":2.5e-5},{"c":15,"v":0.01,"i":2e-6},{"c":15,"v":0,"i":3e-9},{"c":15,"v":-0.01,"i":2.5e-6},{"c":15,"v":-0.04,"i":5e-5},{"c":15,"v":-0.1,"i":2.5e-4},{"c":15,"v":-0.2,"i":6.3e-4},{"c":15,"v":-0.35,"i":1.3e-3},{"c":15,"v":-0.6,"i":2.6e-3},{"c":15,"v":-1.0,"i":5e-3},{"c":15,"v":-1.3,"i":5.9e-3},{"c":15,"v":-1.45,"i":6e-3},{"c":15,"v":-1.45,"i":1.78e-3},{"c":15,"v":-3.0,"i":2e-3},{"c":15,"v":-3.0,"i":3.2e-4},{"c":15,"v":-2.2,"i":1.66e-4},{"c":15,"v":-1.5,"i":7.6e-5},{"c":15,"v":-1.0,"i":3.3e-5},{"c":15,"v":-0.6,"i":1.17e-5},{"c":15,"v":-0.35,"i":3.9e-6},{"c":15,"v":-0.2,"i":1.23e-6},{"c":15,"v":-0.1,"i":4.2e-7},{"c":15,"v":-0.04,"i":1.05e-7},{"c":15,"v":-0.015,"i":3.3e-8},{"c":15,"v":0,"i":1.6e-9},
{"c":16,"v":0,"i":4e-10},{"c":16,"v":0.01,"i":3.5e-8},{"c":16,"v":0.03,"i":8.9e-8},{"c":16,"v":0.1,"i":5e-7},{"c":16,"v":0.25,"i":2.75e-6},{"c":16,"v":0.5,"i":9.8e-6},{"c":16,"v":0.75,"i":2.1e-5},{"c":16,"v":1.0,"i":3.5e-5},{"c":16,"v":1.2,"i":5e-5},{"c":16,"v":1.2,"i":1.86e-3},{"c":16,"v":1.5,"i":2.6e-3},{"c":16,"v":2.0,"i":4e-3},{"c":16,"v":2.25,"i":5e-3},{"c":16,"v":2.35,"i":5e-3},{"c":16,"v":2.25,"i":5e-3},{"c":16,"v":2.0,"i":4e-3},{"c":16,"v":1.5,"i":2.6e-3},{"c":16,"v":1.0,"i":1.4e-3},{"c":16,"v":0.6,"i":6.6e-4},{"c":16,"v":0.35,"i":2.95e-4},{"c":16,"v":0.2,"i":1.26e-4},{"c":16,"v":0.1,"i":4.5e-5},{"c":16,"v":0.04,"i":8.9e-6},{"c":16,"v":0.01,"i":7.1e-7},{"c":16,"v":0,"i":1e-9},{"c":16,"v":-0.01,"i":9.5e-7},{"c":16,"v":-0.04,"i":1.9e-5},{"c":16,"v":-0.1,"i":9.5e-5},{"c":16,"v":-0.2,"i":2.4e-4},{"c":16,"v":-0.35,"i":4.9e-4},{"c":16,"v":-0.6,"i":9.8e-4},{"c":16,"v":-1.0,"i":1.9e-3},{"c":16,"v":-1.15,"i":2.04e-3},{"c":16,"v":-1.15,"i":5e-4},{"c":16,"v":-3.0,"i":6.3e-4},{"c":16,"v":-3.0,"i":1.82e-4},{"c":16,"v":-2.2,"i":9.5e-5},{"c":16,"v":-1.5,"i":4.4e-5},{"c":16,"v":-1.0,"i":1.9e-5},{"c":16,"v":-0.6,"i":6.8e-6},{"c":16,"v":-0.35,"i":2.2e-6},{"c":16,"v":-0.2,"i":7.1e-7},{"c":16,"v":-0.1,"i":2.4e-7},{"c":16,"v":-0.04,"i":6e-8},{"c":16,"v":-0.015,"i":1.9e-8},{"c":16,"v":0,"i":3.2e-10},
{"c":17,"v":0,"i":2e-9},{"c":17,"v":0.01,"i":1.12e-7},{"c":17,"v":0.03,"i":2.8e-7},{"c":17,"v":0.1,"i":1.6e-6},{"c":17,"v":0.25,"i":8.7e-6},{"c":17,"v":0.5,"i":3.1e-5},{"c":17,"v":0.75,"i":6.6e-5},{"c":17,"v":1.0,"i":1.12e-4},{"c":17,"v":1.0,"i":5e-4},{"c":17,"v":1.07,"i":5.6e-4},{"c":17,"v":1.07,"i":1.26e-3},{"c":17,"v":1.15,"i":1.4e-3},{"c":17,"v":1.15,"i":3.9e-3},{"c":17,"v":1.4,"i":5e-3},{"c":17,"v":2.15,"i":5e-3},{"c":17,"v":1.36,"i":5e-3},{"c":17,"v":1.0,"i":3.2e-3},{"c":17,"v":0.6,"i":1.48e-3},{"c":17,"v":0.35,"i":6.6e-4},{"c":17,"v":0.2,"i":2.8e-4},{"c":17,"v":0.1,"i":1e-4},{"c":17,"v":0.04,"i":2e-5},{"c":17,"v":0.01,"i":1.6e-6},{"c":17,"v":0,"i":6e-9},{"c":17,"v":-0.01,"i":2.1e-6},{"c":17,"v":-0.04,"i":4.2e-5},{"c":17,"v":-0.1,"i":2.1e-4},{"c":17,"v":-0.2,"i":5.2e-4},{"c":17,"v":-0.35,"i":1.07e-3},{"c":17,"v":-0.6,"i":2.1e-3},{"c":17,"v":-1.0,"i":4.2e-3},{"c":17,"v":-1.3,"i":4.9e-3},{"c":17,"v":-1.6,"i":5.2e-3},{"c":17,"v":-2.0,"i":5.5e-3},{"c":17,"v":-2.0,"i":1.4e-3},{"c":17,"v":-3.0,"i":1.6e-3},{"c":17,"v":-2.6,"i":5e-4},{"c":17,"v":-2.2,"i":1.5e-4},{"c":17,"v":-1.5,"i":6.9e-5},{"c":17,"v":-1.0,"i":3e-5},{"c":17,"v":-0.6,"i":1.07e-5},{"c":17,"v":-0.35,"i":3.5e-6},{"c":17,"v":-0.2,"i":1.12e-6},{"c":17,"v":-0.1,"i":3.8e-7},{"c":17,"v":-0.04,"i":9.5e-8},{"c":17,"v":-0.015,"i":3e-8},{"c":17,"v":0,"i":8e-10},
{"c":18,"v":0,"i":1.6e-9},{"c":18,"v":0.01,"i":5.6e-8},{"c":18,"v":0.03,"i":1.4e-7},{"c":18,"v":0.1,"i":7.9e-7},{"c":18,"v":0.25,"i":4.4e-6},{"c":18,"v":0.5,"i":1.55e-5},{"c":18,"v":0.75,"i":3.3e-5},{"c":18,"v":0.9,"i":4.6e-5},{"c":18,"v":0.9,"i":2.5e-4},{"c":18,"v":0.98,"i":2.8e-4},{"c":18,"v":0.98,"i":6.3e-4},{"c":18,"v":1.08,"i":7.1e-4},{"c":18,"v":1.08,"i":2.2e-3},{"c":18,"v":1.5,"i":3.6e-3},{"c":18,"v":1.9,"i":5e-3},{"c":18,"v":2.25,"i":5e-3},{"c":18,"v":1.85,"i":5e-3},{"c":18,"v":1.5,"i":3.6e-3},{"c":18,"v":1.0,"i":2e-3},{"c":18,"v":0.6,"i":9.3e-4},{"c":18,"v":0.35,"i":4.2e-4},{"c":18,"v":0.2,"i":1.78e-4},{"c":18,"v":0.1,"i":6.3e-5},{"c":18,"v":0.04,"i":1.26e-5},{"c":18,"v":0.01,"i":1e-6},{"c":18,"v":0,"i":1.3e-9},{"c":18,"v":-0.01,"i":1.2e-6},{"c":18,"v":-0.04,"i":2.4e-5},{"c":18,"v":-0.1,"i":1.2e-4},{"c":18,"v":-0.2,"i":3e-4},{"c":18,"v":-0.35,"i":6.2e-4},{"c":18,"v":-0.6,"i":1.23e-3},{"c":18,"v":-1.0,"i":2.4e-3},{"c":18,"v":-1.3,"i":2.8e-3},{"c":18,"v":-1.35,"i":2.8e-3},{"c":18,"v":-1.35,"i":7.1e-4},{"c":18,"v":-3.0,"i":8.9e-4},{"c":18,"v":-3.0,"i":2.1e-4},{"c":18,"v":-2.2,"i":1.1e-4},{"c":18,"v":-1.5,"i":5e-5},{"c":18,"v":-1.0,"i":2.2e-5},{"c":18,"v":-0.6,"i":7.8e-6},{"c":18,"v":-0.35,"i":2.6e-6},{"c":18,"v":-0.2,"i":8.1e-7},{"c":18,"v":-0.1,"i":2.75e-7},{"c":18,"v":-0.04,"i":6.9e-8},{"c":18,"v":-0.015,"i":2.2e-8},{"c":18,"v":0,"i":6e-10},
{"c":12,"v":0,"i":2.5e-10},{"c":12,"v":0.01,"i":2e-8},{"c":12,"v":0.03,"i":5e-8},{"c":12,"v":0.1,"i":2.8e-7},{"c":12,"v":0.25,"i":1.55e-6},{"c":12,"v":0.5,"i":5.5e-6},{"c":12,"v":0.75,"i":1.17e-5},{"c":12,"v":1.0,"i":2e-5},{"c":12,"v":1.3,"i":3.2e-5},{"c":12,"v":1.3,"i":1e-3},{"c":12,"v":1.4,"i":1.12e-3},{"c":12,"v":1.4,"i":5e-3},{"c":12,"v":3.0,"i":5e-3},{"c":12,"v":1.0,"i":5e-3},{"c":12,"v":0.8,"i":4.5e-3},{"c":12,"v":0.6,"i":3.6e-3},{"c":12,"v":0.35,"i":1.66e-3},{"c":12,"v":0.2,"i":7.1e-4},{"c":12,"v":0.1,"i":2.5e-4},{"c":12,"v":0.04,"i":5e-5},{"c":12,"v":0.01,"i":4e-6},{"c":12,"v":0,"i":1e-8},{"c":12,"v":-0.01,"i":4.4e-6},{"c":12,"v":-0.04,"i":8.7e-5},{"c":12,"v":-0.1,"i":4.4e-4},{"c":12,"v":-0.2,"i":1.1e-3},{"c":12,"v":-0.35,"i":2.2e-3},{"c":12,"v":-0.6,"i":4.5e-3},{"c":12,"v":-1.0,"i":8.7e-3},{"c":12,"v":-1.3,"i":1.02e-2},{"c":12,"v":-1.6,"i":1.1e-2},{"c":12,"v":-1.8,"i":1.12e-2},{"c":12,"v":-1.8,"i":5e-3},{"c":12,"v":-2.1,"i":4.8e-3},{"c":12,"v":-2.1,"i":2.8e-3},{"c":12,"v":-3.0,"i":3.2e-3},{"c":12,"v":-3.0,"i":1.6e-4},{"c":12,"v":-2.2,"i":8.3e-5},{"c":12,"v":-1.5,"i":3.8e-5},{"c":12,"v":-1.0,"i":1.66e-5},{"c":12,"v":-0.6,"i":5.9e-6},{"c":12,"v":-0.35,"i":1.95e-6},{"c":12,"v":-0.2,"i":6.2e-7},{"c":12,"v":-0.1,"i":2.1e-7},{"c":12,"v":-0.04,"i":5.2e-8},{"c":12,"v":-0.015,"i":1.66e-8},{"c":12,"v":0,"i":2.5e-10}
]
},
"vconcat":[
{
"width":463,"height":375,
"title":{"text":"(a)","dx":-71,"offset":-8},
"resolve":{"axis":{"x":"independent","y":"independent"}},
"layer":[
{"data":{"name":"a"},
"mark":{"type":"line","clip":true,"strokeJoin":"round"},
"encoding":{
"x":{"field":"v","type":"quantitative","scale":{"domain":[-3.5,5.93],"nice":false,"zero":false},"axis":{"orient":"bottom","values":[-3,-2,-1,0,1,2,3,4,5],"title":"Voltage (V)","titlePadding":9,"labelExpr":"replace(datum.label, '−', '-')"}},
"y":{"field":"i","type":"quantitative","scale":{"type":"log","domain":[1e-12,0.1],"nice":false},"axis":{"orient":"left","values":[1e-12,1e-11,1e-10,1e-9,1e-8,1e-7,1e-6,1e-5,1e-4,1e-3,1e-2,1e-1],"title":"Current (A)","titlePadding":0,"labelPadding":17,"labelExpr":"'10' + ['⁰','⁻¹','⁻²','⁻³','⁻⁴','⁻⁵','⁻⁶','⁻⁷','⁻⁸','⁻⁹','⁻¹⁰','⁻¹¹','⁻¹²'][round(-log(datum.value)/LN10)]"}},
"color":{"field":"s","type":"nominal","scale":{"domain":["E","1","2","3"],"range":["#c059a9","#4f63b6","#ea1f27","#5ba845"]},"legend":{"orient":"none","legendX":37,"legendY":235,"title":null,"symbolType":"M-2.5,0H2.5","symbolSize":169,"labelFontSize":13,"labelFontWeight":"bold","labelColor":"#111","labelOffset":10,"rowPadding":4,"padding":0,"labelExpr":"datum.label == 'E' ? 'Electroforming' : datum.label == '1' ? '1ˢᵗ cycle' : datum.label == '2' ? '2ⁿᵈ cycle' : '3ʳᵈ cycle'"}},
"strokeWidth":{"field":"s","type":"nominal","scale":{"type":"ordinal","domain":["E","1","2","3"],"range":[4.5,2.5,2.5,2.5]},"legend":{"orient":"none","legendX":37,"legendY":235,"title":null,"symbolType":"M-2.5,0H2.5","symbolSize":169,"labelFontSize":13,"labelFontWeight":"bold","labelColor":"#111","labelOffset":10,"rowPadding":4,"padding":0,"labelExpr":"datum.label == 'E' ? 'Electroforming' : datum.label == '1' ? '1ˢᵗ cycle' : datum.label == '2' ? '2ⁿᵈ cycle' : '3ʳᵈ cycle'"}},
"order":{"value":null}
}},
{"data":{"values":[]},"mark":"point","encoding":{"x":{"field":"v","type":"quantitative","axis":{"orient":"top","values":[-3,-2,-1,0,1,2,3,4,5],"labels":false,"title":null}},"y":{"field":"i","type":"quantitative","axis":{"orient":"right","values":[1e-12,1e-11,1e-10,1e-9,1e-8,1e-7,1e-6,1e-5,1e-4,1e-3,1e-2,1e-1],"labels":false,"title":null}}}},
{"data":{"values":[]},"mark":"point","encoding":{"x":{"field":"v","type":"quantitative","axis":{"orient":"bottom","values":[-2.5,-1.5,-0.5,0.5,1.5,2.5,3.5,4.5,5.5],"labels":false,"title":null,"domain":false,"tickSize":-3.5}},"y":{"field":"i","type":"quantitative","axis":null}}},
{"data":{"values":[]},"mark":"point","encoding":{"x":{"field":"v","type":"quantitative","axis":{"orient":"top","values":[-2.5,-1.5,-0.5,0.5,1.5,2.5,3.5,4.5,5.5],"labels":false,"title":null,"domain":false,"tickSize":-3.5}},"y":{"field":"i","type":"quantitative","axis":null}}},
{"data":{"name":"arr"},"transform":[{"filter":"datum.k == 'b'"}],"mark":{"type":"rule","color":"#4a5fb5","strokeWidth":1},"encoding":{"x":{"field":"x1","type":"quantitative","axis":null},"y":{"field":"y1","type":"quantitative","axis":null},"x2":{"field":"x2"},"y2":{"field":"y2"}}},
{"data":{"name":"arr"},"transform":[{"filter":"datum.k == 'k'"}],"mark":{"type":"rule","color":"#222222","strokeWidth":1},"encoding":{"x":{"field":"x1","type":"quantitative","axis":null},"y":{"field":"y1","type":"quantitative","axis":null},"x2":{"field":"x2"},"y2":{"field":"y2"}}},
{"data":{"name":"arr"},"transform":[{"filter":"datum.k == 'b'"}],"mark":{"type":"point","shape":"triangle-up","filled":true,"size":45,"color":"#4a5fb5","opacity":1},"encoding":{"x":{"field":"x2","type":"quantitative","axis":null},"y":{"field":"y2","type":"quantitative","axis":null},"angle":{"field":"ang","type":"quantitative","scale":null}}},
{"data":{"name":"arr"},"transform":[{"filter":"datum.k == 'k'"}],"mark":{"type":"point","shape":"triangle-up","filled":true,"size":40,"color":"#222222","opacity":1},"encoding":{"x":{"field":"x2","type":"quantitative","axis":null},"y":{"field":"y2","type":"quantitative","axis":null},"angle":{"field":"ang","type":"quantitative","scale":null}}},
{"data":{"values":[{}]},"mark":{"type":"text","text":"At 77 K","fontSize":15,"fontWeight":"bold","align":"left","baseline":"alphabetic","color":"#111"},"encoding":{"x":{"datum":-2.156,"type":"quantitative","axis":null},"y":{"datum":1.67e-8,"type":"quantitative","axis":null}}},
{"data":{"values":[{}]},"mark":{"type":"text","text":"I","fontSize":19,"fontWeight":"bold","align":"left","baseline":"alphabetic","color":"#111"},"encoding":{"x":{"datum":3.649,"type":"quantitative","axis":null},"y":{"datum":1.05e-2,"type":"quantitative","axis":null}}},
{"data":{"values":[{}]},"mark":{"type":"text","text":"cc","fontSize":13,"fontWeight":"bold","align":"left","baseline":"alphabetic","dx":6,"dy":5,"color":"#111"},"encoding":{"x":{"datum":3.649,"type":"quantitative","axis":null},"y":{"datum":1.05e-2,"type":"quantitative","axis":null}}},
{"data":{"values":[{}]},"mark":{"type":"text","text":"= 5 mA","fontSize":19,"fontWeight":"bold","align":"left","baseline":"alphabetic","dx":25,"color":"#111"},"encoding":{"x":{"datum":3.649,"type":"quantitative","axis":null},"y":{"datum":1.05e-2,"type":"quantitative","axis":null}}}
]
},
{
"width":463,"height":378,
"title":{"text":"(b)","dx":-71,"offset":-2},
"resolve":{"axis":{"x":"independent","y":"independent"}},
"layer":[
{"data":{"name":"b"},
"mark":{"type":"line","clip":true,"strokeWidth":2,"strokeJoin":"round"},
"encoding":{
"x":{"field":"v","type":"quantitative","scale":{"domain":[-3.25,3.15],"nice":false,"zero":false},"axis":{"orient":"bottom","values":[-3,-2.5,-2,-1.5,-1,-0.5,0,0.5,1,1.5,2,2.5,3],"format":".1f","title":"Voltage (V)","titlePadding":9,"labelExpr":"replace(datum.label, '−', '-')"}},
"y":{"field":"i","type":"quantitative","scale":{"type":"log","domain":[1e-10,0.1],"nice":false},"axis":{"orient":"left","values":[1e-10,1e-9,1e-8,1e-7,1e-6,1e-5,1e-4,1e-3,1e-2,1e-1],"title":"Current (A)","titlePadding":0,"labelPadding":17,"labelExpr":"'10' + ['⁰','⁻¹','⁻²','⁻³','⁻⁴','⁻⁵','⁻⁶','⁻⁷','⁻⁸','⁻⁹','⁻¹⁰','⁻¹¹','⁻¹²'][round(-log(datum.value)/LN10)]"}},
"color":{"field":"c","type":"nominal","scale":{"domain":[1,2,3,4,5,6,7,8,9,10,11,12,13,14,15,16,17,18],"range":["#1f77b4","#ff7f0e","#2ca02c","#d62728","#9467bd","#8c564b","#e377c2","#7f7f7f","#bcbd22","#17becf","#1f77b4","#ff7f0e","#2ca02c","#d62728","#9467bd","#8c564b","#e377c2","#17becf"]},"legend":null},
"order":{"value":null}
}},
{"data":{"values":[]},"mark":"point","encoding":{"x":{"field":"v","type":"quantitative","axis":{"orient":"top","values":[-3,-2.5,-2,-1.5,-1,-0.5,0,0.5,1,1.5,2,2.5,3],"labels":false,"title":null}},"y":{"field":"i","type":"quantitative","axis":{"orient":"right","values":[1e-10,1e-9,1e-8,1e-7,1e-6,1e-5,1e-4,1e-3,1e-2,1e-1],"labels":false,"title":null}}}},
{"data":{"values":[]},"mark":"point","encoding":{"x":{"field":"v","type":"quantitative","axis":{"orient":"bottom","values":[-2.75,-2.25,-1.75,-1.25,-0.75,-0.25,0.25,0.75,1.25,1.75,2.25,2.75],"labels":false,"title":null,"domain":false,"tickSize":-3.5}},"y":{"field":"i","type":"quantitative","axis":null}}},
{"data":{"values":[]},"mark":"point","encoding":{"x":{"field":"v","type":"quantitative","axis":{"orient":"top","values":[-2.75,-2.25,-1.75,-1.25,-0.75,-0.25,0.25,0.75,1.25,1.75,2.25,2.75],"labels":false,"title":null,"domain":false,"tickSize":-3.5}},"y":{"field":"i","type":"quantitative","axis":null}}},
{"data":{"values":[{}]},"mark":{"type":"text","text":"At 77 K","fontSize":19,"fontWeight":"bold","align":"left","baseline":"alphabetic","color":"#111"},"encoding":{"x":{"datum":1.395,"type":"quantitative","axis":null},"y":{"datum":3.16e-8,"type":"quantitative","axis":null}}},
{"data":{"values":[{}]},"mark":{"type":"text","text":"I","fontSize":19,"fontWeight":"bold","align":"left","baseline":"alphabetic","color":"#111"},"encoding":{"x":{"datum":1.257,"type":"quantitative","axis":null},"y":{"datum":1.03e-2,"type":"quantitative","axis":null}}},
{"data":{"values":[{}]},"mark":{"type":"text","text":"cc","fontSize":13,"fontWeight":"bold","align":"left","baseline":"alphabetic","dx":6,"dy":5,"color":"#111"},"encoding":{"x":{"datum":1.257,"type":"quantitative","axis":null},"y":{"datum":1.03e-2,"type":"quantitative","axis":null}}},
{"data":{"values":[{}]},"mark":{"type":"text","text":"= 5 mA","fontSize":19,"fontWeight":"bold","align":"left","baseline":"alphabetic","dx":24,"color":"#111"},"encoding":{"x":{"datum":1.257,"type":"quantitative","axis":null},"y":{"datum":1.03e-2,"type":"quantitative","axis":null}}}
]
}
]
}
